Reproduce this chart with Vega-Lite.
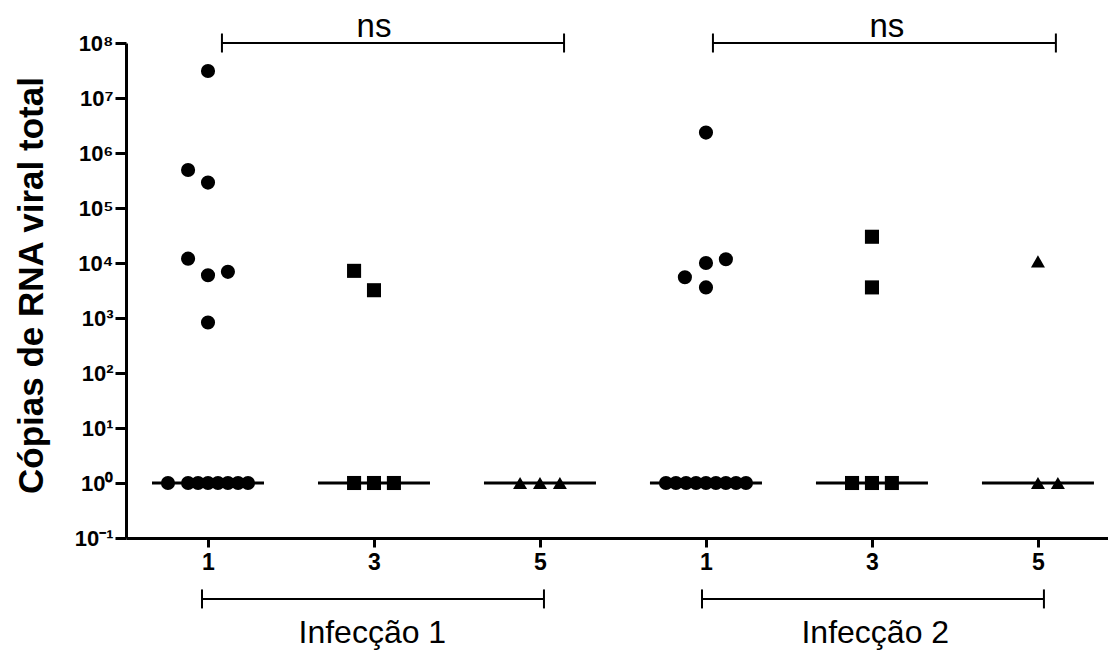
{
  "$schema": "https://vega.github.io/schema/vega-lite/v6.json",
  "width": 982,
  "height": 495,
  "autosize": {"type": "none"},
  "padding": {"left": 126, "top": 43, "right": 0, "bottom": 115},
  "background": "white",
  "config": {"view": {"stroke": null}, "font": "Liberation Sans"},
  "datasets": {
    "pontos": [
      {"infeccao": "Infecção 1", "dia": "1", "x": 0, "copias": 31000000},
      {"infeccao": "Infecção 1", "dia": "1", "x": -0.12, "copias": 490000},
      {"infeccao": "Infecção 1", "dia": "1", "x": 0, "copias": 290000},
      {"infeccao": "Infecção 1", "dia": "1", "x": -0.12, "copias": 12000},
      {"infeccao": "Infecção 1", "dia": "1", "x": 0, "copias": 6000},
      {"infeccao": "Infecção 1", "dia": "1", "x": 0.12, "copias": 6900},
      {"infeccao": "Infecção 1", "dia": "1", "x": 0, "copias": 830},
      {"infeccao": "Infecção 1", "dia": "1", "x": -0.241, "copias": 1},
      {"infeccao": "Infecção 1", "dia": "1", "x": -0.12, "copias": 1},
      {"infeccao": "Infecção 1", "dia": "1", "x": -0.06, "copias": 1},
      {"infeccao": "Infecção 1", "dia": "1", "x": 0, "copias": 1},
      {"infeccao": "Infecção 1", "dia": "1", "x": 0.06, "copias": 1},
      {"infeccao": "Infecção 1", "dia": "1", "x": 0.12, "copias": 1},
      {"infeccao": "Infecção 1", "dia": "1", "x": 0.181, "copias": 1},
      {"infeccao": "Infecção 1", "dia": "1", "x": 0.241, "copias": 1},
      {"infeccao": "Infecção 1", "dia": "3", "x": 0.88, "copias": 7200},
      {"infeccao": "Infecção 1", "dia": "3", "x": 1, "copias": 3200},
      {"infeccao": "Infecção 1", "dia": "3", "x": 0.88, "copias": 1},
      {"infeccao": "Infecção 1", "dia": "3", "x": 1, "copias": 1},
      {"infeccao": "Infecção 1", "dia": "3", "x": 1.12, "copias": 1},
      {"infeccao": "Infecção 1", "dia": "5", "x": 1.88, "copias": 1},
      {"infeccao": "Infecção 1", "dia": "5", "x": 2, "copias": 1},
      {"infeccao": "Infecção 1", "dia": "5", "x": 2.12, "copias": 1},
      {"infeccao": "Infecção 2", "dia": "1", "x": 3, "copias": 2350000},
      {"infeccao": "Infecção 2", "dia": "1", "x": 2.873, "copias": 5500},
      {"infeccao": "Infecção 2", "dia": "1", "x": 3, "copias": 10000},
      {"infeccao": "Infecção 2", "dia": "1", "x": 3.12, "copias": 11700},
      {"infeccao": "Infecção 2", "dia": "1", "x": 3, "copias": 3600},
      {"infeccao": "Infecção 2", "dia": "1", "x": 2.759, "copias": 1},
      {"infeccao": "Infecção 2", "dia": "1", "x": 2.819, "copias": 1},
      {"infeccao": "Infecção 2", "dia": "1", "x": 2.88, "copias": 1},
      {"infeccao": "Infecção 2", "dia": "1", "x": 2.94, "copias": 1},
      {"infeccao": "Infecção 2", "dia": "1", "x": 3, "copias": 1},
      {"infeccao": "Infecção 2", "dia": "1", "x": 3.06, "copias": 1},
      {"infeccao": "Infecção 2", "dia": "1", "x": 3.12, "copias": 1},
      {"infeccao": "Infecção 2", "dia": "1", "x": 3.181, "copias": 1},
      {"infeccao": "Infecção 2", "dia": "1", "x": 3.241, "copias": 1},
      {"infeccao": "Infecção 2", "dia": "3", "x": 4, "copias": 30000},
      {"infeccao": "Infecção 2", "dia": "3", "x": 4, "copias": 3600},
      {"infeccao": "Infecção 2", "dia": "3", "x": 3.88, "copias": 1},
      {"infeccao": "Infecção 2", "dia": "3", "x": 4, "copias": 1},
      {"infeccao": "Infecção 2", "dia": "3", "x": 4.12, "copias": 1},
      {"infeccao": "Infecção 2", "dia": "5", "x": 5, "copias": 10700},
      {"infeccao": "Infecção 2", "dia": "5", "x": 5, "copias": 1},
      {"infeccao": "Infecção 2", "dia": "5", "x": 5.12, "copias": 1}
    ],
    "medianas": [
      {"grupo": 0, "mediana": 1},
      {"grupo": 1, "mediana": 1},
      {"grupo": 2, "mediana": 1},
      {"grupo": 3, "mediana": 1},
      {"grupo": 4, "mediana": 1},
      {"grupo": 5, "mediana": 1}
    ],
    "ns": [
      {"rotulo": "ns", "ini": 0.084, "fim": 2.145, "meio": 1.0},
      {"rotulo": "ns", "ini": 3.042, "fim": 5.108, "meio": 4.09}
    ],
    "infeccoes": [
      {"rotulo": "Infecção 1", "ini": -0.036, "fim": 2.024, "meio": 0.99},
      {"rotulo": "Infecção 2", "ini": 2.976, "fim": 5.036, "meio": 4.02}
    ]
  },
  "layer": [
    {
      "data": {"name": "medianas"},
      "mark": {"type": "tick", "orient": "horizontal", "size": 112, "thickness": 3, "color": "black", "opacity": 1},
      "encoding": {
        "x": {"field": "grupo", "type": "quantitative",
          "scale": {"domain": [-0.494, 5.422], "nice": false, "zero": false},
          "axis": {
            "values": [0, 1, 2, 3, 4, 5],
            "labelExpr": "['1','3','5','1','3','5'][round(datum.value)]",
            "title": null, "grid": false,
            "domainColor": "black", "domainWidth": 3,
            "tickColor": "black", "tickWidth": 3, "tickSize": 9,
            "labelFont": "Liberation Sans", "labelFontSize": 23, "labelFontWeight": "bold",
            "labelColor": "black", "labelPadding": 4
          }},
        "y": {"field": "mediana", "type": "quantitative",
          "scale": {"type": "log", "domain": [0.1, 100000000], "nice": false},
          "axis": {
            "values": [0.1, 1, 10, 100, 1000, 10000, 100000, 1000000, 10000000, 100000000],
            "labelExpr": "'10' + ['⁻¹','⁰','¹','²','³','⁴','⁵','⁶','⁷','⁸'][round(log(datum.value)/LN10)+1]",
            "title": "Cópias de RNA viral total",
            "titleFont": "Liberation Sans", "titleFontSize": 35, "titleFontWeight": "bold",
            "titleColor": "black", "titleAngle": -90, "titleBaseline": "alphabetic",
            "titleAlign": "center", "titleX": -84, "titleY": 242,
            "grid": false,
            "domainColor": "black", "domainWidth": 3,
            "tickColor": "black", "tickWidth": 3, "tickSize": 11,
            "labelFont": "Liberation Sans", "labelFontSize": 22, "labelFontWeight": "bold",
            "labelColor": "black", "labelPadding": 2
          }}
      }
    },
    {
      "data": {"name": "pontos"},
      "mark": {"type": "point", "filled": true, "opacity": 1, "color": "black"},
      "encoding": {
        "x": {"field": "x", "type": "quantitative",
          "scale": {"domain": [-0.494, 5.422], "nice": false, "zero": false}},
        "y": {"field": "copias", "type": "quantitative",
          "scale": {"type": "log", "domain": [0.1, 100000000], "nice": false}},
        "shape": {"field": "dia", "type": "nominal",
          "scale": {"domain": ["1", "3", "5"], "range": ["circle", "square", "triangle-up"]},
          "legend": null},
        "size": {"field": "dia", "type": "nominal",
          "scale": {"domain": ["1", "3", "5"], "range": [200, 196, 240]},
          "legend": null}
      }
    },
    {
      "data": {"name": "ns"},
      "mark": {"type": "rule", "color": "black", "strokeWidth": 2},
      "encoding": {
        "x": {"field": "ini", "type": "quantitative",
          "scale": {"domain": [-0.494, 5.422], "nice": false, "zero": false}},
        "x2": {"field": "fim"},
        "y": {"datum": 100000000, "type": "quantitative",
          "scale": {"type": "log", "domain": [0.1, 100000000], "nice": false}}
      }
    },
    {
      "data": {"name": "ns"},
      "mark": {"type": "tick", "orient": "vertical", "size": 19, "thickness": 2, "color": "black", "opacity": 1},
      "encoding": {
        "x": {"field": "ini", "type": "quantitative",
          "scale": {"domain": [-0.494, 5.422], "nice": false, "zero": false}},
        "y": {"datum": 100000000, "type": "quantitative",
          "scale": {"type": "log", "domain": [0.1, 100000000], "nice": false}}
      }
    },
    {
      "data": {"name": "ns"},
      "mark": {"type": "tick", "orient": "vertical", "size": 19, "thickness": 2, "color": "black", "opacity": 1},
      "encoding": {
        "x": {"field": "fim", "type": "quantitative",
          "scale": {"domain": [-0.494, 5.422], "nice": false, "zero": false}},
        "y": {"datum": 100000000, "type": "quantitative",
          "scale": {"type": "log", "domain": [0.1, 100000000], "nice": false}}
      }
    },
    {
      "data": {"name": "ns"},
      "mark": {"type": "text", "font": "Liberation Sans", "fontSize": 33, "color": "black", "baseline": "alphabetic", "align": "center", "dy": -6},
      "encoding": {
        "x": {"field": "meio", "type": "quantitative",
          "scale": {"domain": [-0.494, 5.422], "nice": false, "zero": false}},
        "y": {"datum": 100000000, "type": "quantitative",
          "scale": {"type": "log", "domain": [0.1, 100000000], "nice": false}},
        "text": {"field": "rotulo"}
      }
    },
    {
      "data": {"name": "infeccoes"},
      "mark": {"type": "rule", "color": "black", "strokeWidth": 2},
      "encoding": {
        "x": {"field": "ini", "type": "quantitative",
          "scale": {"domain": [-0.494, 5.422], "nice": false, "zero": false}},
        "x2": {"field": "fim"},
        "y": {"datum": 0.0078, "type": "quantitative",
          "scale": {"type": "log", "domain": [0.1, 100000000], "nice": false}}
      }
    },
    {
      "data": {"name": "infeccoes"},
      "mark": {"type": "tick", "orient": "vertical", "size": 19, "thickness": 2, "color": "black", "opacity": 1},
      "encoding": {
        "x": {"field": "ini", "type": "quantitative",
          "scale": {"domain": [-0.494, 5.422], "nice": false, "zero": false}},
        "y": {"datum": 0.0078, "type": "quantitative",
          "scale": {"type": "log", "domain": [0.1, 100000000], "nice": false}}
      }
    },
    {
      "data": {"name": "infeccoes"},
      "mark": {"type": "tick", "orient": "vertical", "size": 19, "thickness": 2, "color": "black", "opacity": 1},
      "encoding": {
        "x": {"field": "fim", "type": "quantitative",
          "scale": {"domain": [-0.494, 5.422], "nice": false, "zero": false}},
        "y": {"datum": 0.0078, "type": "quantitative",
          "scale": {"type": "log", "domain": [0.1, 100000000], "nice": false}}
      }
    },
    {
      "data": {"name": "infeccoes"},
      "mark": {"type": "text", "font": "Liberation Sans", "fontSize": 32, "color": "black", "baseline": "alphabetic", "align": "center", "dy": 44},
      "encoding": {
        "x": {"field": "meio", "type": "quantitative",
          "scale": {"domain": [-0.494, 5.422], "nice": false, "zero": false}},
        "y": {"datum": 0.0078, "type": "quantitative",
          "scale": {"type": "log", "domain": [0.1, 100000000], "nice": false}},
        "text": {"field": "rotulo"}
      }
    }
  ]
}
